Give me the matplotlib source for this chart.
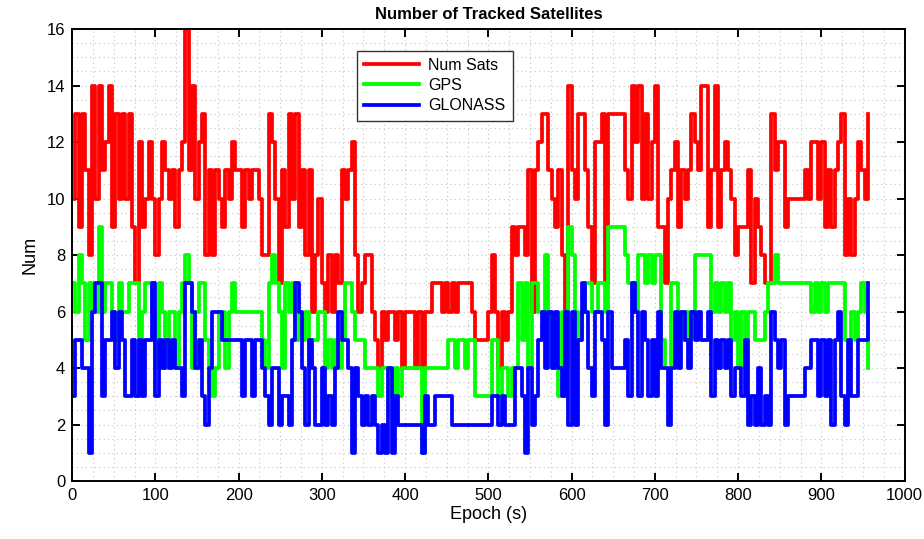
"""Number of tracked satellites per epoch (total, GPS, GLONASS)."""

import matplotlib

matplotlib.use("Agg")
import matplotlib.pyplot as plt
import numpy as np
from matplotlib.ticker import MultipleLocator

EPOCH_STEP = 4

NUM_SATS = [
    10, 13, 9, 13, 11, 8, 14, 10, 14, 11, 12, 14, 9, 13, 10, 13, 10, 13, 9, 7,
    12, 9, 10, 12, 10, 8, 10, 12, 11, 10, 11, 9, 11, 12, 16, 11, 14, 10, 12, 13,
    8, 11, 8, 11, 10, 9, 11, 10, 12, 11, 11, 9, 11, 10, 11, 11, 10, 8, 8, 13,
    12, 10, 7, 11, 9, 13, 10, 13, 9, 11, 8, 11, 6, 8, 10, 7, 6, 8, 6, 8,
    7, 11, 10, 11, 12, 8, 6, 7, 8, 8, 6, 5, 4, 6, 5, 6, 6, 5, 6, 4,
    6, 6, 6, 4, 6, 4, 6, 6, 7, 7, 7, 6, 7, 6, 7, 6, 7, 7, 7, 7,
    6, 5, 5, 5, 5, 6, 8, 6, 4, 6, 5, 6, 9, 8, 9, 9, 8, 11, 6, 11,
    12, 13, 13, 11, 10, 9, 11, 8, 6, 14, 11, 10, 13, 13, 11, 9, 7, 12, 12, 13,
    7, 13, 13, 13, 13, 13, 11, 10, 14, 12, 14, 10, 13, 10, 12, 14, 9, 9, 7, 10,
    11, 12, 9, 11, 10, 11, 13, 12, 11, 14, 14, 9, 11, 14, 9, 11, 12, 11, 10, 8,
    9, 9, 9, 11, 7, 10, 9, 8, 7, 7, 13, 11, 12, 12, 9, 10, 10, 10, 10, 10,
    11, 10, 12, 12, 10, 12, 9, 11, 9, 11, 12, 13, 8, 10, 8, 10, 12, 11, 10, 13,
]

GPS = [
    7, 6, 8, 7, 5, 7, 6, 6, 9, 6, 7, 7, 6, 5, 7, 6, 6, 7, 7, 7,
    3, 6, 7, 7, 6, 4, 7, 6, 4, 6, 6, 4, 6, 7, 8, 7, 4, 6, 7, 7,
    5, 4, 3, 4, 6, 6, 4, 6, 7, 6, 6, 6, 6, 6, 6, 6, 6, 5, 4, 7,
    8, 7, 6, 4, 7, 6, 7, 5, 6, 5, 6, 4, 5, 5, 6, 6, 4, 5, 4, 5,
    4, 5, 7, 7, 6, 5, 5, 5, 4, 4, 4, 4, 3, 4, 4, 4, 3, 4, 3, 4,
    4, 4, 4, 4, 4, 1, 4, 4, 4, 4, 4, 4, 4, 5, 5, 4, 5, 5, 4, 5,
    5, 3, 3, 3, 3, 3, 5, 5, 3, 4, 4, 3, 4, 4, 7, 5, 7, 4, 7, 7,
    6, 6, 8, 6, 4, 4, 3, 6, 4, 9, 8, 6, 5, 6, 7, 7, 6, 6, 7, 7,
    6, 9, 9, 9, 9, 9, 8, 7, 7, 6, 8, 8, 7, 8, 7, 8, 8, 5, 4, 4,
    7, 7, 6, 5, 6, 5, 6, 8, 8, 8, 8, 8, 6, 7, 6, 7, 6, 7, 5, 6,
    4, 6, 5, 6, 6, 5, 5, 5, 6, 7, 7, 8, 7, 7, 7, 7, 7, 7, 7, 7,
    7, 7, 6, 7, 6, 7, 6, 7, 7, 7, 7, 7, 5, 5, 6, 5, 6, 7, 6, 4,
]

GLONASS = [
    3, 5, 5, 4, 4, 1, 6, 7, 7, 3, 5, 5, 6, 4, 6, 5, 3, 3, 5, 3,
    5, 3, 5, 5, 7, 3, 5, 4, 5, 4, 5, 4, 4, 3, 7, 7, 6, 4, 5, 3,
    2, 4, 6, 6, 6, 5, 5, 5, 5, 5, 5, 3, 5, 5, 3, 5, 5, 4, 3, 2,
    4, 4, 2, 3, 3, 2, 5, 7, 6, 4, 2, 5, 4, 2, 2, 4, 2, 3, 2, 4,
    6, 5, 5, 4, 1, 4, 3, 2, 3, 2, 3, 2, 1, 2, 1, 4, 1, 3, 2, 2,
    2, 2, 2, 2, 2, 1, 3, 2, 2, 3, 3, 3, 3, 3, 2, 2, 2, 2, 2, 2,
    2, 2, 2, 2, 2, 2, 3, 3, 2, 3, 2, 2, 2, 4, 4, 3, 1, 4, 2, 3,
    5, 6, 4, 6, 4, 6, 4, 3, 6, 2, 6, 2, 5, 7, 6, 4, 3, 6, 6, 5,
    2, 6, 4, 4, 4, 4, 5, 3, 7, 6, 3, 6, 5, 3, 5, 3, 6, 4, 4, 2,
    4, 6, 4, 6, 5, 4, 6, 5, 6, 5, 5, 6, 3, 5, 4, 5, 4, 5, 3, 4,
    4, 3, 5, 2, 3, 2, 4, 2, 3, 2, 6, 5, 4, 5, 2, 3, 3, 3, 3, 3,
    4, 4, 5, 5, 3, 5, 3, 5, 2, 5, 6, 3, 2, 5, 3, 3, 5, 5, 5, 7,
]

SERIES = [
    ("Num Sats", NUM_SATS, "#ff0000"),
    ("GPS", GPS, "#00ff00"),
    ("GLONASS", GLONASS, "#0000ff"),
]

plt.rcParams["font.family"] = ["Liberation Sans", "DejaVu Sans"]

fig = plt.figure(figsize=(9.24, 5.39), dpi=100)
ax = fig.add_axes([0.078, 0.1076, 0.901, 0.8385])

epochs = np.arange(len(NUM_SATS)) * EPOCH_STEP
for label, values, color in SERIES:
    ax.plot(epochs, values, color=color, linewidth=2.7, drawstyle="steps-post",
            label=label)

ax.set_xlim(0, 1000)
ax.set_ylim(0, 16)
ax.xaxis.set_major_locator(MultipleLocator(100))
ax.yaxis.set_major_locator(MultipleLocator(2))
ax.xaxis.set_minor_locator(MultipleLocator(25))
ax.yaxis.set_minor_locator(MultipleLocator(0.5))
ax.grid(which="both", color="#c4c4c4", linestyle=(0, (1, 3)), linewidth=0.8)
ax.set_axisbelow(True)
ax.tick_params(which="major", direction="in", length=6, width=1.4,
               top=True, right=True, labelsize=12, pad=5)
ax.tick_params(which="minor", length=0)
for spine in ax.spines.values():
    spine.set_linewidth(1.4)

ax.set_title("Number of Tracked Satellites", fontsize=12, fontweight="bold", pad=7)
ax.set_xlabel("Epoch (s)", fontsize=13, labelpad=2)
ax.set_ylabel("Num", fontsize=13, labelpad=6)

leg = ax.legend(loc="upper left", bbox_to_anchor=(0.333, 0.97), fontsize=11.5,
                frameon=True, fancybox=False, handlelength=3.4, borderpad=0.45,
                labelspacing=0.33, handletextpad=0.6)
leg.get_frame().set_edgecolor("#333333")
leg.get_frame().set_linewidth(1.0)
leg.get_frame().set_alpha(1.0)

fig.savefig("out.png", dpi=100)
